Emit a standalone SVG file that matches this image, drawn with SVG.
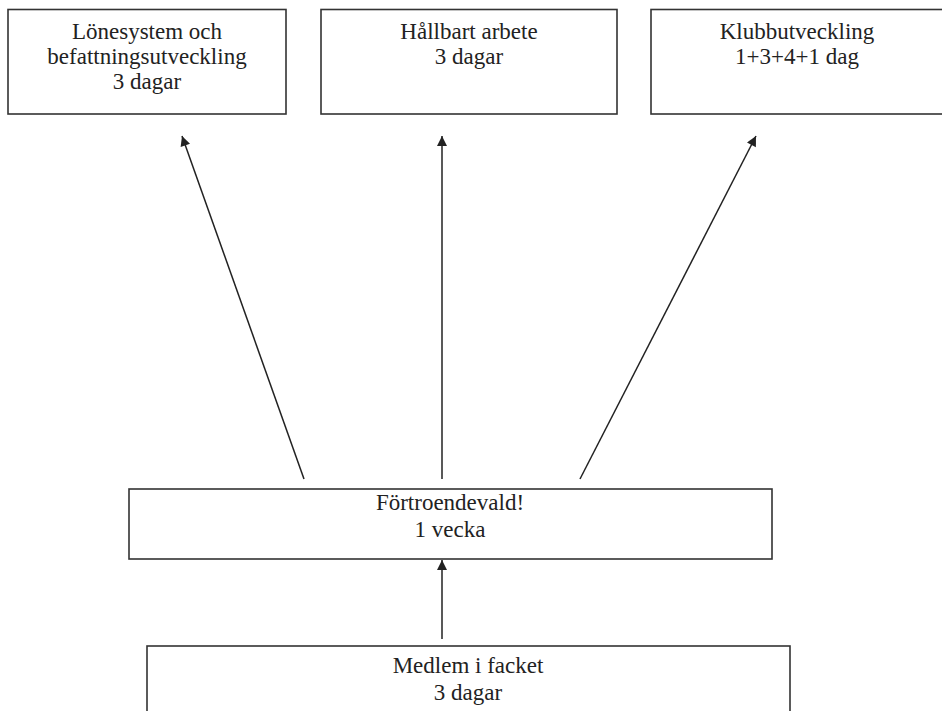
<svg xmlns="http://www.w3.org/2000/svg" width="942" height="711" viewBox="0 0 942 711">
<defs>
<style>
.box{fill:#fff;stroke:#333;stroke-width:1.6}
.t{font-family:'Liberation Serif','Times New Roman',Times,serif;font-size:23px;fill:#222;text-anchor:middle}
.c{stroke:#222;stroke-width:1.5;fill:none;marker-end:url(#ah)}
</style>
<marker id="ah" viewBox="0 0 10 10" refX="10" refY="5" markerWidth="13" markerHeight="10" markerUnits="userSpaceOnUse" orient="auto">
<path d="M0,0 L10,5 L0,10 z" fill="#222"/>
</marker>
</defs>
<rect width="942" height="711" fill="#fff"/>
<g id="n1">
<rect class="box" x="8" y="9.5" width="278" height="104.5"/>
<text class="t" x="147" y="39" font-family="Liberation Serif, serif">Lönesystem och</text>
<text class="t" x="147" y="64" font-family="Liberation Serif, serif">befattningsutveckling</text>
<text class="t" x="147" y="89" font-family="Liberation Serif, serif">3 dagar</text>
</g>
<g id="n2">
<rect class="box" x="321" y="9.5" width="296" height="104.5"/>
<text class="t" x="469" y="39" font-family="Liberation Serif, serif">Hållbart arbete</text>
<text class="t" x="469" y="64" font-family="Liberation Serif, serif">3 dagar</text>
</g>
<g id="n3">
<rect class="box" x="651" y="9.5" width="292" height="104.5"/>
<text class="t" x="797" y="39" font-family="Liberation Serif, serif">Klubbutveckling</text>
<text class="t" x="797" y="64" font-family="Liberation Serif, serif">1+3+4+1 dag</text>
</g>
<g id="n4">
<rect class="box" x="129" y="489" width="643" height="70"/>
<text class="t" x="450" y="510" font-family="Liberation Serif, serif">Förtroendevald!</text>
<text class="t" x="450" y="537" font-family="Liberation Serif, serif">1 vecka</text>
</g>
<g id="n5">
<rect class="box" x="147" y="646" width="643" height="80"/>
<text class="t" x="468" y="673" font-family="Liberation Serif, serif">Medlem i facket</text>
<text class="t" x="468" y="700" font-family="Liberation Serif, serif">3 dagar</text>
</g>
<g id="connectors">
<line class="c" x1="304" y1="479" x2="182" y2="136"/>
<line class="c" x1="442" y1="479" x2="442" y2="136"/>
<line class="c" x1="580" y1="479" x2="756" y2="136"/>
<line class="c" x1="442" y1="639" x2="442" y2="560"/>
</g>
</svg>
